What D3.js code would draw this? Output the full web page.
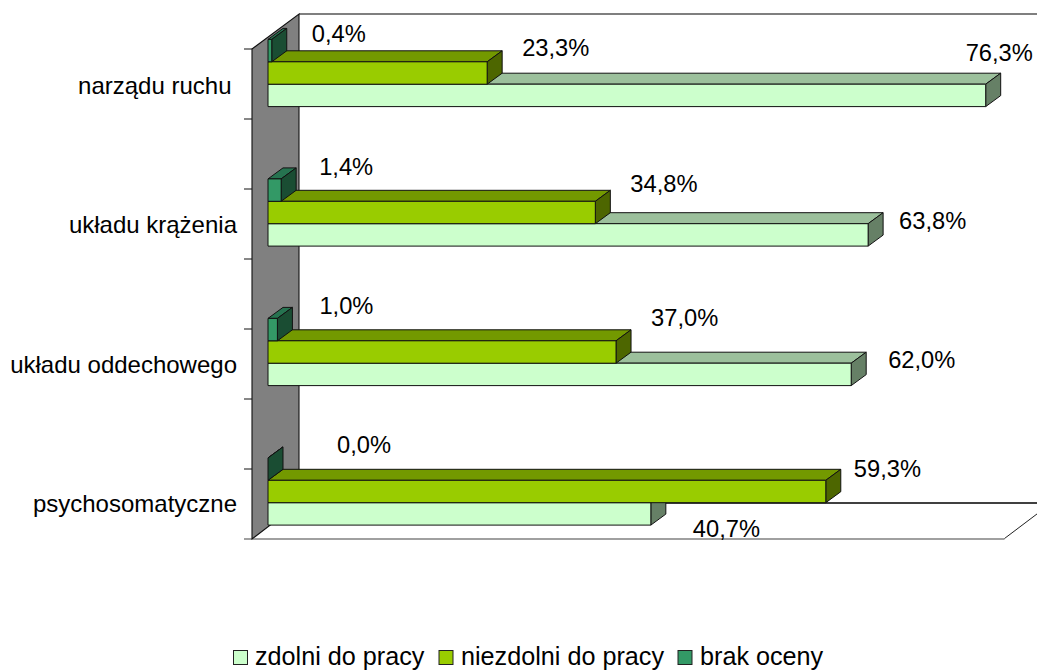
<!DOCTYPE html>
<html><head><meta charset="utf-8">
<script src="https://cdn.jsdelivr.net/npm/d3@7"></script>
<style>
html,body{margin:0;padding:0;background:#fff;overflow:hidden}
text{font-family:"Liberation Sans",Arial,sans-serif;font-size:23.7px;fill:#000}
text.cat{font-size:24px}
text.leg{font-size:25.2px}
</style></head><body>
<script>
const categories = ["narządu ruchu","układu krążenia","układu oddechowego","psychosomatyczne"];
const seriesNames = ["zdolni do pracy","niezdolni do pracy","brak oceny"];
const zdolni = [76.3,63.8,62.0,40.7];
const niezdolni = [23.3,34.8,37.0,59.3];
const brak = [0.4,1.4,1.0,0.0];
const xDomain = [0,80];
const tickSteps = [0,1,2,3,4,5,6,7];

const W=1037,H=670;
const colors=[["#CCFFCC","#9CC09C","#668066"],["#99CC00","#739900","#4D6600"],["#339966","#267350","#1A4D33"]];
const values=[zdolni,niezdolni,brak];

// plot frame
const x=d3.scaleLinear().domain(xDomain).range([252,1004.5]);
const yCenter=d3.scalePoint().domain(categories).range([73,491.5]);
const yTick=d3.scaleLinear().domain([0,7]).range([539,49]);
const wall={dx:47,dy:-36}, bar={off:16,dx:15,dy:-11,h:22.4};
const bottom=539;

const svg=d3.select("body").append("svg").attr("width",W).attr("height",H).style("display","block");
const pts=a=>a.map(p=>p.join(",")).join(" ");

// floor
svg.append("polygon").attr("fill","#fff")
 .attr("points",pts([[x(0),bottom],[x(80),bottom],[x(80)+wall.dx,bottom+wall.dy],[x(0)+wall.dx,bottom+wall.dy]]));
// back plane lines
svg.append("line").attr("x1",x(0)+wall.dx).attr("x2",W+5).attr("y1",yTick(7)+wall.dy+1).attr("y2",yTick(7)+wall.dy+1).attr("stroke","#000").attr("stroke-width",1.2);
svg.append("line").attr("x1",x(0)+wall.dx).attr("x2",W+5).attr("y1",bottom+wall.dy).attr("y2",bottom+wall.dy).attr("stroke","#000").attr("stroke-width",1.6);
// floor edges
svg.append("line").attr("x1",244).attr("x2",x(80)).attr("y1",bottom).attr("y2",bottom).attr("stroke","#808080").attr("stroke-width",1.4);
svg.append("line").attr("x1",x(80)).attr("y1",bottom-0.5).attr("x2",x(80)+wall.dx).attr("y2",bottom+wall.dy).attr("stroke","#222").attr("stroke-width",1);
// side wall
svg.append("polygon").attr("fill","#808080").attr("stroke","#111").attr("stroke-width",1.1)
 .attr("points",pts([[x(0),yTick(7)],[x(0)+wall.dx,yTick(7)+wall.dy+1],[x(0)+wall.dx,bottom+wall.dy],[x(0),bottom]]));
// ticks
svg.selectAll(".tk").data(tickSteps.slice(1)).enter().append("line")
 .attr("x1",244).attr("x2",x(0)).attr("y1",d=>yTick(d)).attr("y2",d=>yTick(d)).attr("stroke","#111").attr("stroke-width",1);

// bars: zdolni lowest, then niezdolni, then brak oceny on top
const rows=[{s:0,shift:1},{s:1,shift:0},{s:2,shift:-1}];
rows.forEach(r=>{
  categories.forEach((c,i)=>{
    const v=values[r.s][i];
    const x0=x(0)+bar.off, x1=x(v)+bar.off;
    const yT=yCenter(c)+ (r.shift-0.5)*bar.h, yB=yT+bar.h;
    const g=svg.append("g").attr("stroke","#111").attr("stroke-width",1).attr("stroke-linejoin","round");
    g.append("polygon").attr("fill",colors[r.s][1]).attr("points",pts([[x0,yT],[x1,yT],[x1+bar.dx,yT+bar.dy],[x0+bar.dx,yT+bar.dy]]));
    g.append("polygon").attr("fill",colors[r.s][2]).attr("points",pts([[x1,yT],[x1+bar.dx,yT+bar.dy],[x1+bar.dx,yB+bar.dy],[x1,yB]]));
    if(v>0) g.append("rect").attr("fill",colors[r.s][0]).attr("x",x0).attr("y",yT).attr("width",x1-x0).attr("height",bar.h);
  });
});

// category labels
const catRight=[231.5,237,237,237];
categories.forEach((c,i)=>{
  svg.append("text").attr("class","cat").attr("x",catRight[i]).attr("y",yCenter(c)+20.5).attr("text-anchor","end").text(c);
});

// value labels: offset from the bar's front end (dx to text start) and from the group centre (dy to baseline)
const labelOffset=[
 [[-20,-12],[31,16],[37,16],[42,45]],
 [[35,-17],[35,-21],[35,-26],[28,-15]],
 [[40,-31],[38,-37.5],[42,-38.5],[69,-38.5]]
];
const fmt=v=>v.toFixed(1).replace(".",",")+"%";
values.forEach((vals,s)=>{
  vals.forEach((v,i)=>{
    const o=labelOffset[s][i];
    svg.append("text").attr("x",x(v)+bar.off+o[0]).attr("y",yCenter(categories[i])+o[1]).text(fmt(v));
  });
});

// legend
const legX=[[233.5,255],[439,461],[678,700]];
seriesNames.forEach((n,i)=>{
  svg.append("rect").attr("x",legX[i][0]).attr("y",650.5).attr("width",14).attr("height",14).attr("fill",colors[i][0]).attr("stroke","#222").attr("stroke-width",1);
  svg.append("text").attr("class","leg").attr("x",legX[i][1]).attr("y",665).text(n);
});
</script></body></html>
